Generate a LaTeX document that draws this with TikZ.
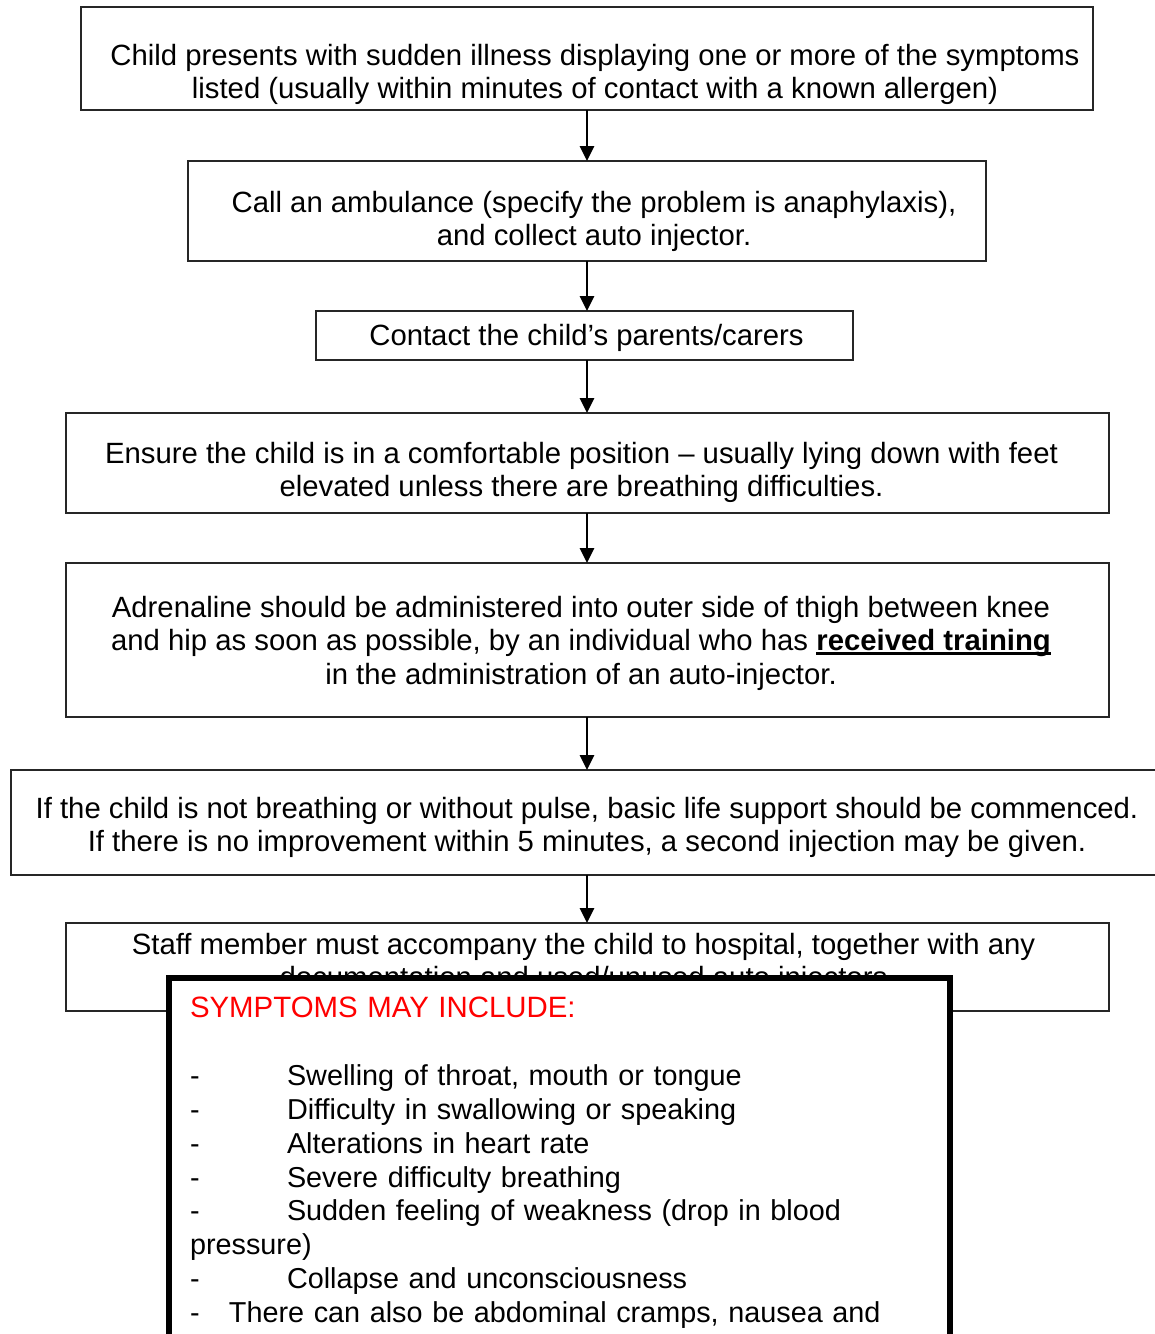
\documentclass[tikz,border=0pt]{standalone}
\usepackage{fontspec}
\setmainfont{Liberation Sans}
\usetikzlibrary{arrows.meta,positioning}

\newcommand{\topstrut}[1]{\rule{0pt}{#1}}
\newcommand{\botstrut}[1]{\rule[-#1]{0pt}{#1}}
\newsavebox{\stressbox}
\newcommand{\stressline}[1]{\sbox\stressbox{#1}\rlap{\rule[-2.2pt]{\wd\stressbox}{1.4pt}}\usebox\stressbox}

\begin{document}
\begin{tikzpicture}[
	x = 0.5pt, y = -0.5pt, % one unit per pixel, y runs down
	> = {Triangle[length=7.5pt, width=7pt]}, % arrow head style
	node distance = 25pt, % gap between boxes
	font = \fontsize{14.65}{16.5}\selectfont,
	stepbox/.style={rectangle, draw=black!85, line width=1pt, outer sep=0pt, inner sep=0pt, align=center},
	flow/.style={->, line width=1.4pt},
	symbox/.style={rectangle, draw=black, line width=3pt, fill=white, outer sep=0pt, anchor=north west,
		text width=369.5pt, align=left, inner xsep=10.5pt, inner ysep=9.5pt,
		font=\fontsize{14.4}{16.95}\selectfont},
	]

	\useasboundingbox (0,0) rectangle (1155,1334);
	\clip (0,0) rectangle (1155,1334);

	% Steps, top to bottom
	\node[stepbox, minimum width=506pt, minimum height=51.5pt] (call) at (587,58.5)
		{\hspace*{8pt}\topstrut{26.7pt}Child presents with sudden illness displaying one or more of the symptoms\\
		 \hspace*{8pt}listed (usually within minutes of contact with a known allergen)};
	\node[stepbox, minimum width=399pt, minimum height=50pt] (amb) [below = 25.5pt of call]
		{\hspace*{7pt}\topstrut{21.2pt}Call an ambulance (specify the problem is anaphylaxis),\\
		 \hspace*{7pt}and collect auto injector.};
	\node[stepbox, minimum width=268.5pt, minimum height=24.5pt] (par) [below = 25pt of amb, xshift=-1.5pt]
		{\hspace*{2.5pt}\topstrut{12.7pt}Contact the child’s parents/carers};
	\node[stepbox, minimum width=521.5pt, minimum height=50pt] (pos) [below = 26.5pt of par, xshift=1.5pt]
		{\topstrut{19.7pt}Ensure the child is in a comfortable position -- usually lying down with feet\hspace*{5.5pt}\\
		 elevated unless there are breathing difficulties.\hspace*{5.5pt}};
	\node[stepbox, minimum width=521.5pt, minimum height=77pt, font=\fontsize{14.65}{16.75}\selectfont] (adr) [below = 25pt of pos]
		{\topstrut{13.7pt}Adrenaline should be administered into outer side of thigh between knee\hspace*{6pt}\\
		 \hspace*{-6pt}and hip as soon as possible, by an individual who has \stressline{\textbf{received training}}\\
		 in the administration of an auto-injector.\hspace*{6pt}};
	\node[stepbox, minimum width=576pt, minimum height=52.5pt] (bls) [below = 26.5pt of adr]
		{\topstrut{15.7pt}If the child is not breathing or without pulse, basic life support should be commenced.\\
		 If there is no improvement within 5 minutes, a second injection may be given.};
	\node[stepbox, minimum width=521.5pt, minimum height=44pt] (hosp) [below = 24pt of bls]
		{Staff member must accompany the child to hospital, together with any\hspace*{3.5pt}\\
		 documentation and used/unused auto injectors\hspace*{3.5pt}\botstrut{6.5pt}};

	% Arrows between steps
	\draw[flow] (call) -- (amb);
	\draw[flow] (amb) -- (amb |- par.north);
	\draw[flow] (pos |- par.south) -- (pos);
	\draw[flow] (pos) -- (adr);
	\draw[flow] (adr) -- (bls);
	\draw[flow] (bls) -- (hosp);

	% Symptom list, laid over the last step
	\node[symbox] (symp) at (169,978)
		{\textcolor{red}{\fontsize{14.7}{16.95}\selectfont SYMPTOMS MAY INCLUDE:}\\[16.95pt]
		 \makebox[48.5pt][l]{-}Swelling of throat, mouth or tongue\\
		 \makebox[48.5pt][l]{-}Difficulty in swallowing or speaking\\
		 \makebox[48.5pt][l]{-}Alterations in heart rate\\
		 \makebox[48.5pt][l]{-}Severe difficulty breathing\\
		 \makebox[48.5pt][l]{-}Sudden feeling of weakness (drop in blood\\
		 pressure)\\
		 \makebox[48.5pt][l]{-}Collapse and unconsciousness\\
		 \makebox[19.5pt][l]{-}There can also be abdominal cramps, nausea and\botstrut{30pt}};

\end{tikzpicture}
\end{document}
